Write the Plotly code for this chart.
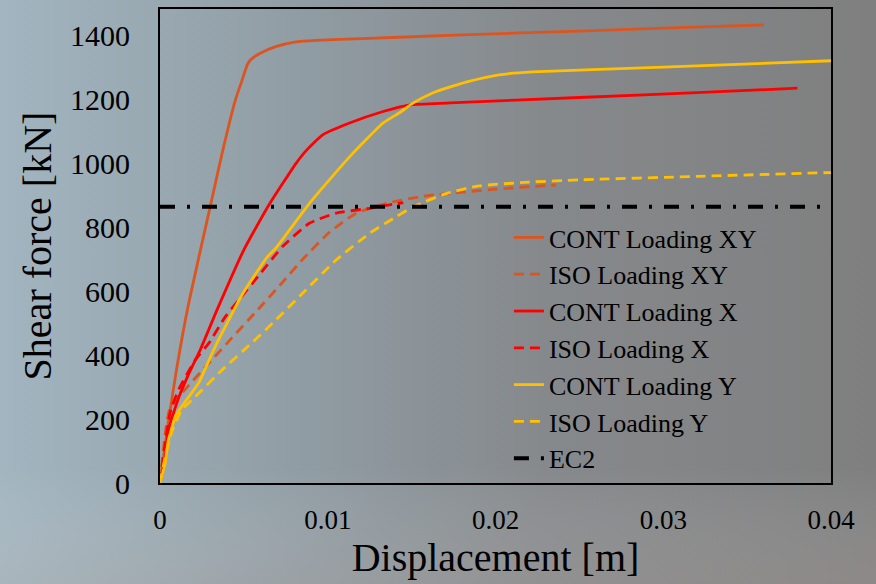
import base64
import plotly.graph_objects as go

# ---- data (displacement in m, shear force in kN) ----
cont_xy_x = [0, 0.0005, 0.001, 0.0017, 0.003, 0.00375, 0.0045, 0.0049, 0.0052, 0.0054,
             0.006, 0.0069, 0.0081, 0.0093, 0.012, 0.018, 0.025, 0.03, 0.036]
cont_xy_y = [0, 190, 360, 560, 867, 1043, 1200, 1262, 1309, 1325,
             1346, 1366, 1381, 1386, 1391, 1403, 1415, 1424, 1434]

iso_xy_x = [0, 0.0003, 0.0006, 0.0017, 0.003, 0.0043, 0.0057, 0.0073, 0.0085, 0.0101,
            0.0117, 0.0137, 0.016, 0.02, 0.0236]
iso_xy_y = [0, 150, 235, 305, 380, 455, 535, 628, 700, 785,
            845, 878, 900, 920, 933]

cont_x_x = [0, 0.0003, 0.0005, 0.0011, 0.0017, 0.0024, 0.0034, 0.005, 0.0065, 0.0081, 0.0087,
            0.0097, 0.0113, 0.0133, 0.0149, 0.0173, 0.025, 0.032, 0.038]
cont_x_y = [0, 70, 166, 265, 340, 417, 542, 730, 871, 1000, 1040,
            1090, 1127, 1163, 1184, 1190, 1207, 1222, 1236]

iso_x_x = [0, 0.0003, 0.0006, 0.0011, 0.0021, 0.0029, 0.0039, 0.0047, 0.006, 0.0073,
           0.0089, 0.0105, 0.0125, 0.0145]
iso_x_y = [0, 120, 220, 291, 385, 437, 521, 573, 657, 740,
           813, 845, 860, 878]

cont_y_x = [0, 0.0003, 0.0005, 0.0007, 0.0009, 0.0013, 0.0023, 0.0032, 0.0049, 0.0064, 0.0069,
            0.0089, 0.0113, 0.0133, 0.0143, 0.0151, 0.01625, 0.0173, 0.0183, 0.0202, 0.0222,
            0.03, 0.04]
cont_y_y = [0, 60, 135, 170, 207, 240, 313, 417, 590, 708, 735,
            875, 1021, 1127, 1160, 1190, 1221, 1240, 1256, 1278, 1287,
            1302, 1322]

iso_y_x = [0, 0.0003, 0.0007, 0.0013, 0.0021, 0.0037, 0.0055, 0.0069, 0.0085, 0.0105,
           0.0125, 0.0141, 0.0151, 0.0171, 0.019, 0.022, 0.025, 0.032, 0.04]
iso_y_y = [0, 80, 160, 229, 270, 354, 440, 510, 594, 698,
           782, 834, 865, 907, 930, 942, 949, 960, 972]

ec2_x = [0, 0.04]
ec2_y = [865, 865]

x_ticks = [0, 0.01, 0.02, 0.03, 0.04]
x_tick_labels = ["0", "0.01", "0.02", "0.03", "0.04"]
y_ticks = [0, 200, 400, 600, 800, 1000, 1200, 1400]
y_tick_labels = ["0", "200", "400", "600", "800", "1000", "1200", "1400"]

# ---- figure ----
W, H = 876, 584
ML, MR, MT, MB = 160, 45, 9, 101
PW, PH = W - ML - MR, H - MT - MB

FONT = "Liberation Serif, Times New Roman, serif"
C_XY = "#DC5520"
C_X = "#FF0000"
C_Y = "#FFC000"
DASH = "10px,6px"

fig = go.Figure()
series = [
    ("CONT Loading XY", cont_xy_x, cont_xy_y, C_XY, "solid"),
    ("ISO Loading XY", iso_xy_x, iso_xy_y, C_XY, DASH),
    ("CONT Loading X", cont_x_x, cont_x_y, C_X, "solid"),
    ("ISO Loading X", iso_x_x, iso_x_y, C_X, DASH),
    ("CONT Loading Y", cont_y_x, cont_y_y, C_Y, "solid"),
    ("ISO Loading Y", iso_y_x, iso_y_y, C_Y, DASH),
]
for name, xs, ys, col, dash in series:
    fig.add_trace(go.Scatter(x=xs, y=ys, name=name, mode="lines",
                             line=dict(color=col, width=2.8, dash=dash,
                                       shape="spline", smoothing=0.5)))
fig.add_trace(go.Scatter(x=ec2_x, y=ec2_y, name="EC2", mode="lines",
                         line=dict(color="black", width=4, dash="15px,12px,3px,12px")))

# gradient background as inline SVG
svg = (
    '<svg xmlns="http://www.w3.org/2000/svg" width="876" height="584">'
    '<defs><linearGradient id="g" x1="0" y1="0" x2="1" y2="0">'
    '<stop offset="0" stop-color="#A2B5C0"/>'
    '<stop offset="0.35" stop-color="#909CA3"/>'
    '<stop offset="0.62" stop-color="#86898C"/>'
    '<stop offset="1" stop-color="#7F7F7F"/>'
    '</linearGradient>'
    '<linearGradient id="v" x1="0" y1="0" x2="0" y2="1">'
    '<stop offset="0" stop-color="#FFFFFF" stop-opacity="0"/>'
    '<stop offset="0.8" stop-color="#FFFFFF" stop-opacity="0"/>'
    '<stop offset="1" stop-color="#C8B4AA" stop-opacity="0.18"/>'
    '</linearGradient></defs>'
    '<rect width="876" height="584" fill="url(#g)"/>'
    '<rect width="876" height="584" fill="url(#v)"/>'
    '</svg>'
)
src = "data:image/svg+xml;base64," + base64.b64encode(svg.encode()).decode()
fig.add_layout_image(dict(source=src, xref="paper", yref="paper",
                          x=-ML / PW, y=1 + MT / PH, sizex=W / PW, sizey=H / PH,
                          xanchor="left", yanchor="top", sizing="stretch",
                          layer="below"))

fig.update_layout(
    width=W, height=H,
    margin=dict(l=ML, r=MR, t=MT, b=MB, pad=0, autoexpand=False),
    paper_bgcolor="#8E969B",
    plot_bgcolor="rgba(0,0,0,0)",
    font=dict(family=FONT, color="black"),
    showlegend=True,
    legend=dict(x=0.52, y=0.5675, xanchor="left", yanchor="top",
                bgcolor="rgba(0,0,0,0)", borderwidth=0,
                font=dict(family=FONT, size=26, color="black"),
                tracegroupgap=0),
)
fig.update_xaxes(range=[0, 0.04], tickvals=x_ticks, ticktext=x_tick_labels,
                 showline=True, linecolor="black", linewidth=2, mirror=True,
                 showgrid=False, zeroline=False, ticks="", automargin=False,
                 tickfont=dict(family=FONT, size=27, color="black"),
                 ticklabelstandoff=12,
                 title=dict(text="Displacement [m]", standoff=0,
                            font=dict(family=FONT, size=40, color="black")))
fig.update_yaxes(range=[0, 1484], tickvals=y_ticks, ticktext=y_tick_labels,
                 showline=True, linecolor="black", linewidth=2, mirror=True,
                 showgrid=False, zeroline=False, ticks="", automargin=False,
                 tickfont=dict(family=FONT, size=30, color="black"),
                 ticklabelstandoff=22,
                 title=dict(text="Shear force [kN]", standoff=6,
                            font=dict(family=FONT, size=40, color="black")))

fig.write_html("out.html",
               config={"displayModeBar": False},
               post_script="document.body.style.margin='0';"
                           "document.body.style.background='#8E969B';")
